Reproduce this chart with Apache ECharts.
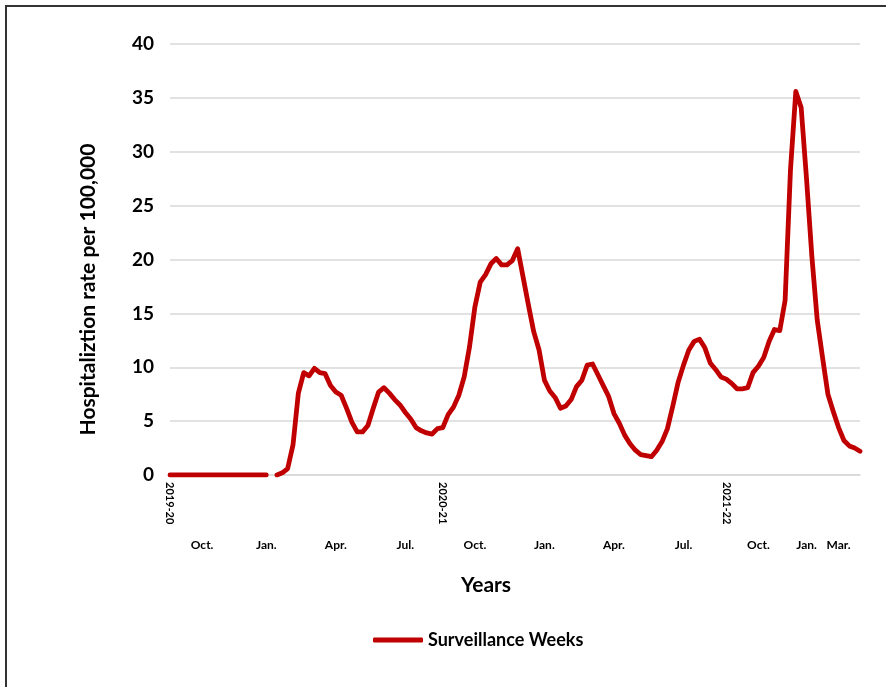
<!DOCTYPE html>
<html>
<head>
<meta charset="utf-8">
<script src="https://cdn.jsdelivr.net/npm/echarts@6/dist/echarts.min.js"></script>
<style>
  html, body { margin: 0; padding: 0; background: #fff; }
  #chart { width: 886px; height: 687px; }
  #frame { position: absolute; left: 5px; top: 5px; width: 1000px; height: 1000px;
           border-left: 2px solid #333; border-top: 2px solid #333; pointer-events: none; }
</style>
</head>
<body>
<div id="chart"></div>
<div id="frame"></div>
<script>
// weekly hospitalization rate per 100,000 (one value per surveillance week)
var rates = [
  0, 0, 0, 0, 0, 0, 0, 0, 0, 0,
  0, 0, 0, 0, 0, 0, 0, 0, 0, null,
  0, 0.2, 0.6, 2.8, 7.6, 9.5, 9.2, 9.9, 9.5, 9.4,
  8.3, 7.7, 7.4, 6.2, 4.9, 4.0, 4.0, 4.6, 6.2, 7.7,
  8.1, 7.6, 7.0, 6.5, 5.8, 5.2, 4.4, 4.1, 3.9, 3.8,
  4.3, 4.4, 5.6, 6.3, 7.4, 9.1, 11.9, 15.6, 17.9, 18.6,
  19.6, 20.1, 19.5, 19.5, 19.9, 21.0, 18.4, 15.8, 13.3, 11.6,
  8.8, 7.8, 7.2, 6.2, 6.4, 7.0, 8.2, 8.8, 10.2, 10.3,
  9.3, 8.3, 7.3, 5.7, 4.8, 3.7, 2.9, 2.3, 1.9, 1.8,
  1.7, 2.3, 3.1, 4.3, 6.4, 8.6, 10.2, 11.6, 12.4, 12.6,
  11.8, 10.4, 9.8, 9.1, 8.9, 8.5, 8.0, 8.0, 8.1, 9.5,
  10.1, 10.9, 12.4, 13.5, 13.4, 16.2, 28.3, 35.6, 34.1, 27.5,
  20.3, 14.4, 10.9, 7.5, 5.9, 4.4, 3.2, 2.7, 2.5, 2.2
];

// season labels and the week index where each season starts
var seasonLabels = ['2019-20', '2020-21', '2021-22'];
var seasonWeeks = [0, 51, 104];

// month labels and the week index under which they sit
var monthLabels = ['Oct.', 'Jan.', 'Apr.', 'Jul.', 'Oct.', 'Jan.', 'Apr.', 'Jul.', 'Oct.', 'Jan.', 'Mar.'];
var monthWeeks = [6, 18, 31, 44, 57, 70, 83, 96, 110, 119, 125];

var yTicks = [0, 5, 10, 15, 20, 25, 30, 35, 40];

var weeks = rates.map(function (v, i) { return String(i + 1); });

function labelAt(labels, idxs) {
  return function (value, index) {
    var k = idxs.indexOf(index);
    return k >= 0 ? labels[k] : '';
  };
}

var FONT = 'Lato, "Open Sans", sans-serif';
var chart = echarts.init(document.getElementById('chart'));

chart.setOption({
  backgroundColor: '#fff',
  animation: false,
  textStyle: { fontFamily: FONT },
  grid: { left: 170, right: 26, top: 44, bottom: 212, outerBoundsMode: 'none' },
  legend: {
    data: ['Surveillance Weeks'],
    left: 373,
    top: 631,
    padding: 0,
    icon: 'roundRect',
    itemWidth: 50,
    itemHeight: 5,
    textStyle: { fontFamily: FONT, fontWeight: 'bold', fontSize: 18, color: '#000' }
  },
  xAxis: [{
    type: 'category',
    data: weeks,
    boundaryGap: false,
    axisLine: { show: true, lineStyle: { color: '#d9d9d9', width: 1.5 } },
    axisTick: { show: false },
    axisLabel: {
      interval: 0,
      rotate: -90,
      margin: 7,
      fontFamily: FONT,
      fontWeight: 'bold',
      fontSize: 11,
      color: '#000',
      formatter: labelAt(seasonLabels, seasonWeeks)
    }
  }, {
    type: 'category',
    data: weeks,
    position: 'bottom',
    boundaryGap: false,
    axisLine: { show: false },
    axisTick: { show: false },
    axisLabel: {
      interval: 0,
      margin: 64,
      fontFamily: FONT,
      fontWeight: 'bold',
      fontSize: 12,
      color: '#000',
      formatter: labelAt(monthLabels, monthWeeks)
    },
    name: 'Years',
    nameLocation: 'middle',
    nameGap: 100,
    nameTextStyle: { fontFamily: FONT, fontWeight: 'bold', fontSize: 21, color: '#000', padding: [0, 58, 0, 0] }
  }],
  yAxis: {
    type: 'value',
    min: yTicks[0],
    max: yTicks[yTicks.length - 1],
    interval: 5,
    axisLine: { show: false },
    axisTick: { show: false },
    splitLine: { lineStyle: { color: '#d9d9d9', width: 1.5 } },
    axisLabel: {
      margin: 16,
      fontFamily: FONT,
      fontWeight: 'bold',
      fontSize: 19,
      color: '#000'
    },
    name: 'Hospitaliztion rate per 100,000',
    nameLocation: 'middle',
    nameGap: 71,
    nameTextStyle: { fontFamily: FONT, fontWeight: 'bold', fontSize: 21, color: '#000', padding: [0, 60, 0, 0] }
  },
  series: [{
    name: 'Surveillance Weeks',
    type: 'line',
    data: rates,
    xAxisIndex: 0,
    showSymbol: false,
    symbol: 'none',
    connectNulls: false,
    itemStyle: { color: '#c00000' },
    lineStyle: { color: '#c00000', width: 4.8, cap: 'round', join: 'round' }
  }]
});
</script>
</body>
</html>
